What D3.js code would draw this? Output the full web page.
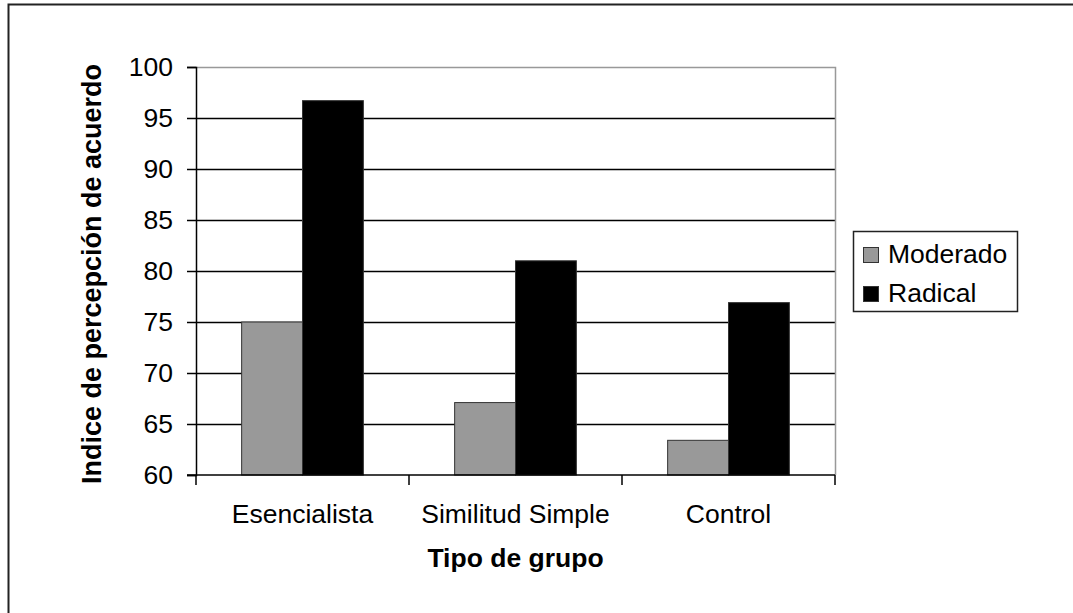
<!DOCTYPE html>
<html>
<head>
<meta charset="utf-8">
<script src="https://cdn.jsdelivr.net/npm/d3@7"></script>
<style>
  body { margin: 0; background: #fff; }
  svg { display: block; font-family: "Liberation Sans", Arial, sans-serif; }
</style>
</head>
<body>
<svg id="chart"></svg>
<script>
const categories = ["Esencialista", "Similitud Simple", "Control"];
const seriesNames = ["Moderado", "Radical"];
const moderado = [75.0, 67.1, 63.4];
const radical = [96.7, 81.0, 76.9];
const yTicks = [60, 65, 70, 75, 80, 85, 90, 95, 100];

const width = 1073;
const height = 613;
const marginTop = 67;
const marginRight = 238;
const marginBottom = 138;
const marginLeft = 196;
const fontSize = 26.5;

const colors = { Moderado: "#999999", Radical: "#000000" };
const values = { Moderado: moderado, Radical: radical };

const svg = d3.select("#chart").attr("width", width).attr("height", height);

// outer chart frame (runs off the right and bottom edge)
svg.append("rect")
  .attr("x", 8.5).attr("y", 4.5)
  .attr("width", 1100).attr("height", 640)
  .attr("fill", "none").attr("stroke", "#222").attr("stroke-width", 2);

const x0 = d3.scaleBand()
  .domain(categories)
  .range([marginLeft, width - marginRight])
  .padding(0);

const x1 = d3.scaleBand()
  .domain(seriesNames)
  .range([0, x0.bandwidth()])
  .paddingInner(0)
  .paddingOuter(0.75);

const y = d3.scaleLinear()
  .domain([60, 100])
  .range([height - marginBottom, marginTop]);

// gridlines
svg.append("g")
  .selectAll("line")
  .data(yTicks.filter((d) => d > 60 && d < 100))
  .join("line")
  .attr("x1", marginLeft).attr("x2", width - marginRight)
  .attr("y1", (d) => Math.round(y(d)) + 0.5).attr("y2", (d) => Math.round(y(d)) + 0.5)
  .attr("stroke", "#000").attr("stroke-width", 1.5);

// plot border top/right (gray)
svg.append("path")
  .attr("d", `M${marginLeft},${Math.round(y(100)) + 0.5}H${width - marginRight + 0.5}V${height - marginBottom}`)
  .attr("fill", "none").attr("stroke", "#999").attr("stroke-width", 1.5);

// bars
const groups = svg.append("g")
  .selectAll("g")
  .data(categories)
  .join("g")
  .attr("transform", (d) => `translate(${x0(d)},0)`);

groups.selectAll("rect")
  .data((c, i) => seriesNames.map((key) => ({ key, value: values[key][i] })))
  .join("rect")
  .attr("x", (d) => x1(d.key))
  .attr("width", x1.bandwidth())
  .attr("y", (d) => y(d.value))
  .attr("height", (d) => y(60) - y(d.value))
  .attr("fill", (d) => colors[d.key])
  .attr("stroke", "#333").attr("stroke-width", 1);

// y axis
const yAxisG = svg.append("g")
  .attr("transform", `translate(${marginLeft},0)`)
  .call(d3.axisLeft(y).tickValues(yTicks).tickSize(9).tickPadding(14));
yAxisG.select(".domain").attr("stroke", "#000").attr("stroke-width", 1.5);
yAxisG.selectAll(".tick line").attr("stroke", "#000").attr("stroke-width", 1.5);
yAxisG.selectAll(".tick text")
  .attr("font-size", fontSize).attr("fill", "#000")
  .attr("font-family", "Liberation Sans, Arial, sans-serif");

// x axis
const xAxisG = svg.append("g")
  .attr("transform", `translate(0,${height - marginBottom})`);
xAxisG.append("line")
  .attr("x1", marginLeft - 9).attr("x2", width - marginRight)
  .attr("stroke", "#000").attr("stroke-width", 1.5);
xAxisG.selectAll(".sep")
  .data(categories.map((c) => x0(c)).concat([x0.range()[1]]))
  .join("line")
  .attr("class", "sep")
  .attr("x1", (d) => d).attr("x2", (d) => d)
  .attr("y1", 0).attr("y2", 10)
  .attr("stroke", "#000").attr("stroke-width", 1.5);
xAxisG.selectAll(".lab")
  .data(categories)
  .join("text")
  .attr("class", "lab")
  .attr("x", (d) => x0(d) + x0.bandwidth() / 2)
  .attr("y", 48)
  .attr("text-anchor", "middle")
  .attr("font-size", fontSize)
  .text((d) => d);

// axis titles
svg.append("text")
  .attr("x", (marginLeft + width - marginRight) / 2)
  .attr("y", 567)
  .attr("text-anchor", "middle")
  .attr("font-size", fontSize).attr("font-weight", "bold")
  .text("Tipo de grupo");

svg.append("text")
  .attr("transform", `translate(101,274) rotate(-90)`)
  .attr("text-anchor", "middle")
  .attr("font-size", 27).attr("font-weight", "bold")
  .text("Indice de percepción de acuerdo");

// legend
const legend = svg.append("g").attr("transform", "translate(853,231)");
legend.append("rect")
  .attr("x", 0.5).attr("y", 0.5)
  .attr("width", 164).attr("height", 80)
  .attr("fill", "#fff").attr("stroke", "#222").attr("stroke-width", 1.5);
const item = legend.selectAll(".item")
  .data(seriesNames)
  .join("g")
  .attr("class", "item")
  .attr("transform", (d, i) => `translate(0,${16 + i * 39})`);
item.append("rect")
  .attr("x", 10.5).attr("y", 0.5)
  .attr("width", 15).attr("height", 15)
  .attr("fill", (d) => colors[d]).attr("stroke", "#333");
item.append("text")
  .attr("x", 35).attr("y", 16)
  .attr("font-size", fontSize)
  .text((d) => d);
</script>
</body>
</html>
